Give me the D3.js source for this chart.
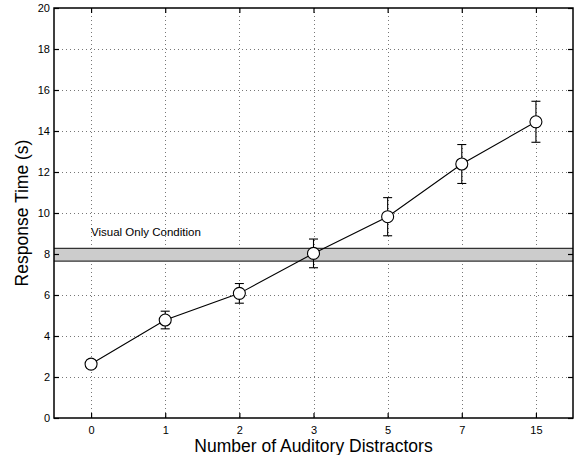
<!DOCTYPE html>
<html>
<head>
<meta charset="utf-8">
<script src="https://cdn.jsdelivr.net/npm/d3@7"></script>
<style>
  body { margin: 0; background: #fff; }
  svg text { font-family: "Liberation Sans", Arial, sans-serif; fill: #000; }
</style>
</head>
<body>
<div id="chart"></div>
<script>
// distractor counts shown on the x axis
var categories = ["0", "1", "2", "3", "5", "7", "15"];
// mean response time (s) and error bar half-length
var meanTimes = [2.63, 4.78, 6.08, 8.03, 9.82, 12.39, 14.45];
var errorSizes = [0.2, 0.43, 0.48, 0.7, 0.93, 0.95, 1.0];
// visual only condition band (s)
var visualOnlyBand = [7.65, 8.27];
var yTicks = [0, 2, 4, 6, 8, 10, 12, 14, 16, 18, 20];

var width = 575;
var height = 455;
var margin = { top: 8, right: 2, bottom: 37, left: 54 };
var plotW = width - margin.left - margin.right;
var plotH = height - margin.top - margin.bottom;

var svg = d3
  .select("#chart")
  .append("svg")
  .attr("width", width)
  .attr("height", height);

var g = svg
  .append("g")
  .attr("transform", "translate(" + margin.left + "," + margin.top + ")");

var x = d3.scalePoint().domain(categories).range([0, plotW]).padding(0.5);
var y = d3.scaleLinear().domain([0, 20]).range([plotH, 0]);

var data = categories.map(function(c, i) {
  return { cat: c, mean: meanTimes[i], err: errorSizes[i] };
});

// dotted grid
g.append("g")
  .selectAll("line")
  .data(yTicks.filter(function(t) { return t > 0 && t < 20; }))
  .enter()
  .append("line")
  .attr("x1", 0)
  .attr("x2", plotW)
  .attr("y1", function(d) { return y(d) + 0.5; })
  .attr("y2", function(d) { return y(d) + 0.5; })
  .attr("stroke", "#777")
  .attr("stroke-width", 1)
  .attr("stroke-dasharray", "1,3");

g.append("g")
  .selectAll("line")
  .data(categories)
  .enter()
  .append("line")
  .attr("x1", function(d) { return Math.round(x(d)) + 0.5; })
  .attr("x2", function(d) { return Math.round(x(d)) + 0.5; })
  .attr("y1", 0)
  .attr("y2", plotH)
  .attr("stroke", "#777")
  .attr("stroke-width", 1)
  .attr("stroke-dasharray", "1,3");

// visual only band
g.append("rect")
  .attr("x", 0)
  .attr("y", y(visualOnlyBand[1]))
  .attr("width", plotW)
  .attr("height", y(visualOnlyBand[0]) - y(visualOnlyBand[1]))
  .attr("fill", "#cccccc")
  .attr("stroke", "none");
g.selectAll(".band-edge")
  .data(visualOnlyBand)
  .enter()
  .append("line")
  .attr("class", "band-edge")
  .attr("x1", 0)
  .attr("x2", plotW)
  .attr("y1", function(d) { return y(d); })
  .attr("y2", function(d) { return y(d); })
  .attr("stroke", "#333")
  .attr("stroke-width", 1.2);

g.append("text")
  .attr("x", x("0"))
  .attr("y", y(visualOnlyBand[1]) - 12)
  .attr("font-size", 11.5)
  .text("Visual Only Condition");

// axes, ticks point inward on all four sides
var tickLen = 5;
var axisLeft = d3.axisLeft(y).tickValues(yTicks).tickSize(-tickLen).tickPadding(4);
var axisRight = d3.axisRight(y).tickValues(yTicks).tickSize(-tickLen).tickFormat("");
var axisBottom = d3.axisBottom(x).tickSize(-tickLen).tickPadding(8);
var axisTop = d3.axisTop(x).tickSize(-tickLen).tickFormat("");

function styleAxis(sel) {
  sel.select(".domain").remove();
  sel.selectAll("line").attr("stroke", "#000").attr("stroke-width", 1.2);
  sel.selectAll("text").attr("font-size", 11).attr("font-family", "Liberation Sans, Arial, sans-serif");
}

g.append("g").call(axisLeft).call(styleAxis);
g.append("g").attr("transform", "translate(" + plotW + ",0)").call(axisRight).call(styleAxis);
g.append("g").attr("transform", "translate(0," + plotH + ")").call(axisBottom).call(styleAxis);
g.append("g").call(axisTop).call(styleAxis);

// frame
g.append("rect")
  .attr("x", 0)
  .attr("y", 0)
  .attr("width", plotW)
  .attr("height", plotH)
  .attr("fill", "none")
  .attr("stroke", "#000")
  .attr("stroke-width", 1.5);

// line through means
var line = d3
  .line()
  .x(function(d) { return x(d.cat); })
  .y(function(d) { return y(d.mean); });

g.append("path")
  .datum(data)
  .attr("d", line)
  .attr("fill", "none")
  .attr("stroke", "#000")
  .attr("stroke-width", 1.1);

// error bars
var capHalf = 4.5;
var err = g
  .selectAll(".err")
  .data(data)
  .enter()
  .append("g")
  .attr("class", "err")
  .attr("stroke", "#000")
  .attr("stroke-width", 1.1);
err
  .append("line")
  .attr("x1", function(d) { return x(d.cat); })
  .attr("x2", function(d) { return x(d.cat); })
  .attr("y1", function(d) { return y(d.mean - d.err); })
  .attr("y2", function(d) { return y(d.mean + d.err); });
err
  .append("line")
  .attr("x1", function(d) { return x(d.cat) - capHalf; })
  .attr("x2", function(d) { return x(d.cat) + capHalf; })
  .attr("y1", function(d) { return y(d.mean + d.err); })
  .attr("y2", function(d) { return y(d.mean + d.err); });
err
  .append("line")
  .attr("x1", function(d) { return x(d.cat) - capHalf; })
  .attr("x2", function(d) { return x(d.cat) + capHalf; })
  .attr("y1", function(d) { return y(d.mean - d.err); })
  .attr("y2", function(d) { return y(d.mean - d.err); });

// markers
g.selectAll(".pt")
  .data(data)
  .enter()
  .append("circle")
  .attr("class", "pt")
  .attr("cx", function(d) { return x(d.cat); })
  .attr("cy", function(d) { return y(d.mean); })
  .attr("r", 6)
  .attr("fill", "#fff")
  .attr("stroke", "#000")
  .attr("stroke-width", 1.1);

// axis titles
svg
  .append("text")
  .attr("x", margin.left + plotW / 2)
  .attr("y", 452)
  .attr("text-anchor", "middle")
  .attr("font-size", 17.5)
  .text("Number of Auditory Distractors");

svg
  .append("text")
  .attr("transform", "translate(28," + (margin.top + plotH / 2) + ") rotate(-90)")
  .attr("text-anchor", "middle")
  .attr("font-size", 17.5)
  .text("Response Time (s)");
</script>
</body>
</html>
